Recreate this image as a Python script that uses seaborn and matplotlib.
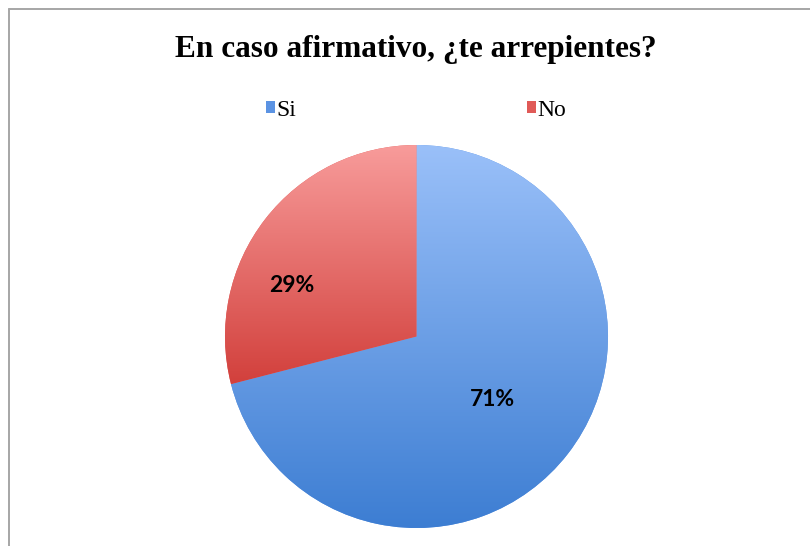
import numpy as np
import matplotlib
matplotlib.use('Agg')
import matplotlib.pyplot as plt
from matplotlib.lines import Line2D
from matplotlib.patches import Patch
from matplotlib.colors import LinearSegmentedColormap
import seaborn as sns

# data
labels = ['Si', 'No']
shares = [71, 29]
pct_text = ['71%', '29%']

# gradient colours (top -> bottom) for each slice
top_colors = ['#9ac0f9', '#f89c9b']
bottom_colors = ['#3c7dd2', '#d2403c']
legend_colors = ['#5b93e3', '#e05a57']

sns.set_theme(style='white')
plt.rcParams['font.family'] = ['Liberation Serif', 'DejaVu Serif']
plt.rcParams['text.color'] = 'black'

fig = plt.figure(figsize=(8.1, 5.46), dpi=100)
fig.patch.set_facecolor('white')

# pie axes: centre (416.5, 336.5) px, radius ~191.5 px
W, H = 810, 546
r_px = 191.5
cx, cy = 416.5, 336.5
ax = fig.add_axes([(cx - r_px) / W, (H - cy - r_px) / H, 2 * r_px / W, 2 * r_px / H])

wedges, _, autotexts = ax.pie(shares, colors=legend_colors, startangle=90, counterclock=False,
                              autopct='%1.0f%%', pctdistance=0.55,
                              wedgeprops=dict(linewidth=0),
                              textprops=dict(family='Lato', fontweight='bold', fontsize=16.5, color='black'))
ax.set_aspect('equal')
ax.axis('off')

# vertical gradient fill for each slice, clipped to the wedge
for w, c0, c1 in zip(wedges, top_colors, bottom_colors):
    pts = w.get_patch_transform().transform(w.get_path().vertices)
    ymin, ymax = pts[:, 1].min(), pts[:, 1].max()
    cmap = LinearSegmentedColormap.from_list('g', [c1, c0])
    grad = np.linspace(0, 1, 256).reshape(-1, 1)
    im = ax.imshow(grad, cmap=cmap, origin='lower', aspect='auto',
                   extent=[-1.05, 1.05, ymin, ymax], zorder=w.get_zorder() + 0.1)
    im.set_clip_path(w)

for t, s in zip(autotexts, pct_text):
    t.set_text(s)
    t.set_zorder(5)
autotexts[0].set_position((0.394, -0.33))
autotexts[1].set_position((-0.65, 0.265))

ax.set_xlim(-1, 1)
ax.set_ylim(-1, 1)

# title
fig.text(416 / W, 1 - 49 / H, 'En caso afirmativo, ¿te arrepientes?', ha='center', va='center',
         fontsize=22.5, fontweight='bold', family='Liberation Serif', color='black')

# legend
handles = [Patch(facecolor=c, edgecolor='none') for c in legend_colors]
fig.legend(handles, labels, loc='center left', bbox_to_anchor=(266 / W, 1 - 110 / H),
           ncol=2, frameon=False, fontsize=17, handlelength=0.4, handleheight=0.4,
           handletextpad=0.05, columnspacing=9.75, borderpad=0, borderaxespad=0)

# outer frame (top and left visible)
fig.add_artist(Line2D([8.5 / W, 8.5 / W], [0, 1 - 8.5 / H], transform=fig.transFigure,
                      color='#a6a6a6', linewidth=1.4))
fig.add_artist(Line2D([8.5 / W, 1], [1 - 8.5 / H, 1 - 8.5 / H], transform=fig.transFigure,
                      color='#a6a6a6', linewidth=1.4))

fig.savefig('out.png', dpi=100, facecolor='white')
